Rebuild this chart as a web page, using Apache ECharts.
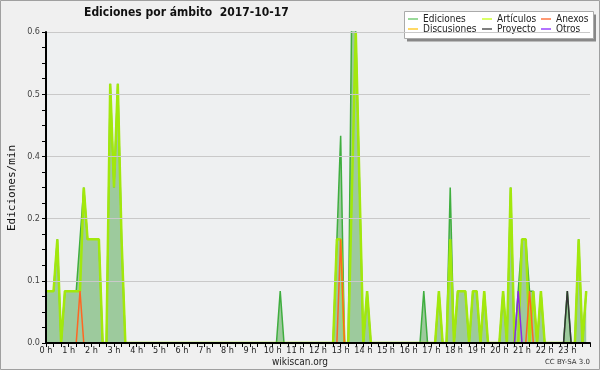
<!DOCTYPE html>
<html>
<head>
<meta charset="utf-8">
<script src="https://cdn.jsdelivr.net/npm/echarts@6/dist/echarts.min.js"></script>
<style>
html,body{margin:0;padding:0;background:#f0f0f0;}
#c{width:600px;height:370px;}
</style>
</head>
<body>
<div id="c"></div>
<script>
// 10-minute buckets, rates in edits/min, one row per hour (6 values)
const ediciones = [
  0.1,0.1,0.1,0.2,0,0.1,   // 0h
  0.1,0.1,0.1,0.2,0.3,0.2, // 1h
  0.2,0.2,0.2,0,0,0.5,     // 2h
  0.3,0.5,0.2,0,0,0,       // 3h
  0,0,0,0,0,0,             // 4h
  0,0,0,0,0,0,             // 5h
  0,0,0,0,0,0,             // 6h
  0,0,0,0,0,0,             // 7h
  0,0,0,0,0,0,             // 8h
  0,0,0,0,0,0,             // 9h
  0,0,0.1,0,0,0,           // 10h
  0,0,0,0,0,0,             // 11h
  0,0,0,0,0,0.2,           // 12h
  0.4,0,0,0.7,0.6,0.3,     // 13h
  0,0.1,0,0,0,0,           // 14h
  0,0,0,0,0,0,             // 15h
  0,0,0,0,0.1,0,           // 16h
  0,0,0.1,0,0,0.3,         // 17h
  0,0.1,0.1,0.1,0,0.1,     // 18h
  0.1,0,0.1,0,0,0,         // 19h
  0,0.1,0,0.3,0,0.1,       // 20h
  0.2,0.2,0.1,0.1,0,0.1,   // 21h
  0,0,0,0,0,0,             // 22h
  0.1,0,0,0.2,0,0.1        // 23h
];
const articulos = [
  0.1,0.1,0.1,0.2,0,0.1,
  0.1,0.1,0.1,0.1,0.3,0.2,
  0.2,0.2,0.2,0,0,0.5,
  0.3,0.5,0.2,0,0,0,
  0,0,0,0,0,0,
  0,0,0,0,0,0,
  0,0,0,0,0,0,
  0,0,0,0,0,0,
  0,0,0,0,0,0,
  0,0,0,0,0,0,
  0,0,0,0,0,0,
  0,0,0,0,0,0,
  0,0,0,0,0,0.2,
  0.2,0,0,0.3,0.6,0.3,
  0,0.1,0,0,0,0,
  0,0,0,0,0,0,
  0,0,0,0,0,0,
  0,0,0.1,0,0,0.2,
  0,0.1,0.1,0.1,0,0.1,
  0.1,0,0.1,0,0,0,
  0,0.1,0,0.3,0,0,
  0.2,0.2,0,0.1,0,0.1,
  0,0,0,0,0,0,
  0,0,0,0.2,0,0.1
];
const anexos = [
  0,0,0,0,0,0,
  0,0,0,0.1,0,0,
  0,0,0,0,0,0,
  0,0,0,0,0,0,
  0,0,0,0,0,0,
  0,0,0,0,0,0,
  0,0,0,0,0,0,
  0,0,0,0,0,0,
  0,0,0,0,0,0,
  0,0,0,0,0,0,
  0,0,0,0,0,0,
  0,0,0,0,0,0,
  0,0,0,0,0,0,
  0.2,0,0,0,0,0,
  0,0,0,0,0,0,
  0,0,0,0,0,0,
  0,0,0,0,0,0,
  0,0,0,0,0,0,
  0,0,0,0,0,0,
  0,0,0,0,0,0,
  0,0,0,0,0,0,
  0,0,0.1,0,0,0,
  0,0,0,0,0,0,
  0,0,0,0,0,0
];
const discusiones = [
  0,0,0,0,0,0, 0,0,0,0,0,0, 0,0,0,0,0,0, 0,0,0,0,0,0,
  0,0,0,0,0,0, 0,0,0,0,0,0, 0,0,0,0,0,0, 0,0,0,0,0,0,
  0,0,0,0,0,0, 0,0,0,0,0,0, 0,0,0,0,0,0, 0,0,0,0,0,0,
  0,0,0,0,0,0, 0,0,0,0,0,0, 0,0,0,0,0,0, 0,0,0,0,0,0,
  0,0,0,0,0,0, 0,0,0,0,0,0, 0,0,0,0,0,0, 0,0,0,0,0,0,
  0,0,0,0,0,0, 0,0,0,0,0,0, 0,0,0,0,0,0, 0,0,0,0,0,0
];
const proyecto = [
  0,0,0,0,0,0, 0,0,0,0,0,0, 0,0,0,0,0,0, 0,0,0,0,0,0,
  0,0,0,0,0,0, 0,0,0,0,0,0, 0,0,0,0,0,0, 0,0,0,0,0,0,
  0,0,0,0,0,0, 0,0,0,0,0,0, 0,0,0,0,0,0, 0,0,0,0,0,0,
  0,0,0,0,0,0, 0,0,0,0,0,0, 0,0,0,0,0,0, 0,0,0,0,0,0,
  0,0,0,0,0,0, 0,0,0,0,0,0, 0,0,0,0,0,0, 0,0,0,0,0,0,
  0,0,0,0,0,0, 0,0,0,0,0,0, 0,0,0,0,0,0,
  0.1,0,0,0,0,0
];
const otros = [
  0,0,0,0,0,0, 0,0,0,0,0,0, 0,0,0,0,0,0, 0,0,0,0,0,0,
  0,0,0,0,0,0, 0,0,0,0,0,0, 0,0,0,0,0,0, 0,0,0,0,0,0,
  0,0,0,0,0,0, 0,0,0,0,0,0, 0,0,0,0,0,0, 0,0,0,0,0,0,
  0,0,0,0,0,0, 0,0,0,0,0,0, 0,0,0,0,0,0, 0,0,0,0,0,0,
  0,0,0,0,0,0, 0,0,0,0,0,0, 0,0,0,0,0,0, 0,0,0,0,0,0,
  0,0,0,0,0,0.1, 0,0,0,0,0,0, 0,0,0,0,0,0, 0,0,0,0,0,0
];
const hourLabels = ['0 h','1 h','2 h','3 h','4 h','5 h','6 h','7 h','8 h','9 h','10 h','11 h',
  '12 h','13 h','14 h','15 h','16 h','17 h','18 h','19 h','20 h','21 h','22 h','23 h'];
const yTicks = [0, 0.12, 0.24, 0.36, 0.48, 0.6];
const titleText = 'Ediciones por ámbito  2017-10-17';

const pts = arr => arr.map((v, i) => [i / 6, v]);

const chart = echarts.init(document.getElementById('c'), null, {renderer: 'canvas'});
const FONT = '"DejaVu Sans Condensed", "DejaVu Sans", sans-serif';
function lineSeries(name, data, color, width, z, area) {
  const s = {
    name, type: 'line', data: pts(data), symbol: 'none', z,
    lineStyle: {color, width}, itemStyle: {color}, clip: true, silent: true
  };
  if (area) s.areaStyle = {color: area, opacity: 1};
  return s;
}
const legendText = {fontSize: 10, color: '#222', lineHeight: 10, fontFamily: FONT};
chart.setOption({
  animation: false,
  backgroundColor: '#f0f0f0',
  textStyle: {fontFamily: FONT},
  title: {
    text: titleText, left: 84, top: 7, padding: 0,
    textStyle: {fontSize: 12, fontWeight: 'bold', color: '#111', fontFamily: FONT}
  },
  grid: {left: 46, right: 10, top: 32, bottom: 27, show: true, backgroundColor: '#eef0f1', borderWidth: 0},
  legend: [
    {left: 408, top: 14, padding: 0, orient: 'vertical', icon: 'rect', itemWidth: 10, itemHeight: 1.5, itemGap: 0,
     selectedMode: false, textStyle: legendText,
     data: [{name: 'Ediciones', itemStyle: {color: '#77cc77'}}, {name: 'Discusiones', itemStyle: {color: '#ffcc33'}}]},
    {left: 482, top: 14, padding: 0, orient: 'vertical', icon: 'rect', itemWidth: 10, itemHeight: 1.5, itemGap: 0,
     selectedMode: false, textStyle: legendText,
     data: [{name: 'Artículos', itemStyle: {color: '#ccff33'}}, {name: 'Proyecto', itemStyle: {color: '#555555'}}]},
    {left: 541, top: 14, padding: 0, orient: 'vertical', icon: 'rect', itemWidth: 10, itemHeight: 1.5, itemGap: 0,
     selectedMode: false, textStyle: legendText,
     data: [{name: 'Anexos', itemStyle: {color: '#ff7744'}}, {name: 'Otros', itemStyle: {color: '#9944ff'}}]}
  ],
  xAxis: {
    type: 'value', min: 0, max: 24, interval: 1, z: 5,
    axisLine: {show: true, onZero: false, lineStyle: {color: '#000', width: 2}},
    axisTick: {show: true, length: 4, lineStyle: {color: '#000'}},
    minorTick: {show: true, splitNumber: 3, length: 4, lineStyle: {color: '#000'}},
    splitLine: {show: false},
    axisLabel: {fontSize: 9, color: '#222', margin: 3, fontFamily: FONT, hideOverlap: false,
      formatter: v => hourLabels[v] || ''}
  },
  yAxis: {
    type: 'value', min: yTicks[0], max: yTicks[yTicks.length - 1], interval: yTicks[1], z: 5,
    axisLine: {show: true, lineStyle: {color: '#000', width: 2}},
    axisTick: {show: true, length: 4, lineStyle: {color: '#000'}},
    minorTick: {show: true, splitNumber: 4, length: 4, lineStyle: {color: '#000'}},
    splitLine: {show: true, lineStyle: {color: '#c9c9c9', width: 1}},
    axisLabel: {fontSize: 9, color: '#444', margin: 6, fontFamily: FONT,
      formatter: v => v.toFixed(1)}
  },
  series: [
    lineSeries('Ediciones', ediciones, '#3fae3f', 1.5, 2, '#9dca9d'),
    lineSeries('Discusiones', discusiones, '#ffcc33', 1.5, 3),
    lineSeries('Artículos', articulos, '#a2e80c', 2.5, 4),
    lineSeries('Anexos', anexos, '#ff6622', 1.5, 4),
    lineSeries('Proyecto', proyecto, '#333333', 1.5, 4),
    lineSeries('Otros', otros, '#8a2be2', 1.5, 4)
  ],
  graphic: [
    {type: 'rect', silent: true, z: -1, shape: {x: 0.5, y: 0.5, width: 599, height: 369},
     style: {fill: 'none', stroke: '#a0a0a0', lineWidth: 1}},
    {type: 'rect', silent: true, z: 0, shape: {x: 407, y: 14.5, width: 189, height: 27},
     style: {fill: '#888888'}},
    {type: 'rect', silent: true, z: 1, shape: {x: 404.5, y: 11.5, width: 189, height: 27},
     style: {fill: '#ffffff', stroke: '#aaaaaa', lineWidth: 1}},
    {type: 'text', silent: true, z: 10, x: 12, y: 188, rotation: Math.PI / 2,
     style: {text: 'Ediciones/min', font: '11px "DejaVu Sans Mono"', fill: '#111',
       textAlign: 'center', textVerticalAlign: 'middle'}},
    {type: 'text', silent: true, z: 10, x: 300, y: 362,
     style: {text: 'wikiscan.org', font: '10px "DejaVu Sans Condensed", "DejaVu Sans"', fill: '#222',
       textAlign: 'center', textVerticalAlign: 'middle'}},
    {type: 'text', silent: true, z: 10, x: 590, y: 362,
     style: {text: 'CC BY-SA 3.0', font: '7px "DejaVu Sans"', fill: '#333',
       textAlign: 'right', textVerticalAlign: 'middle'}}
  ]
});
</script>
</body>
</html>
